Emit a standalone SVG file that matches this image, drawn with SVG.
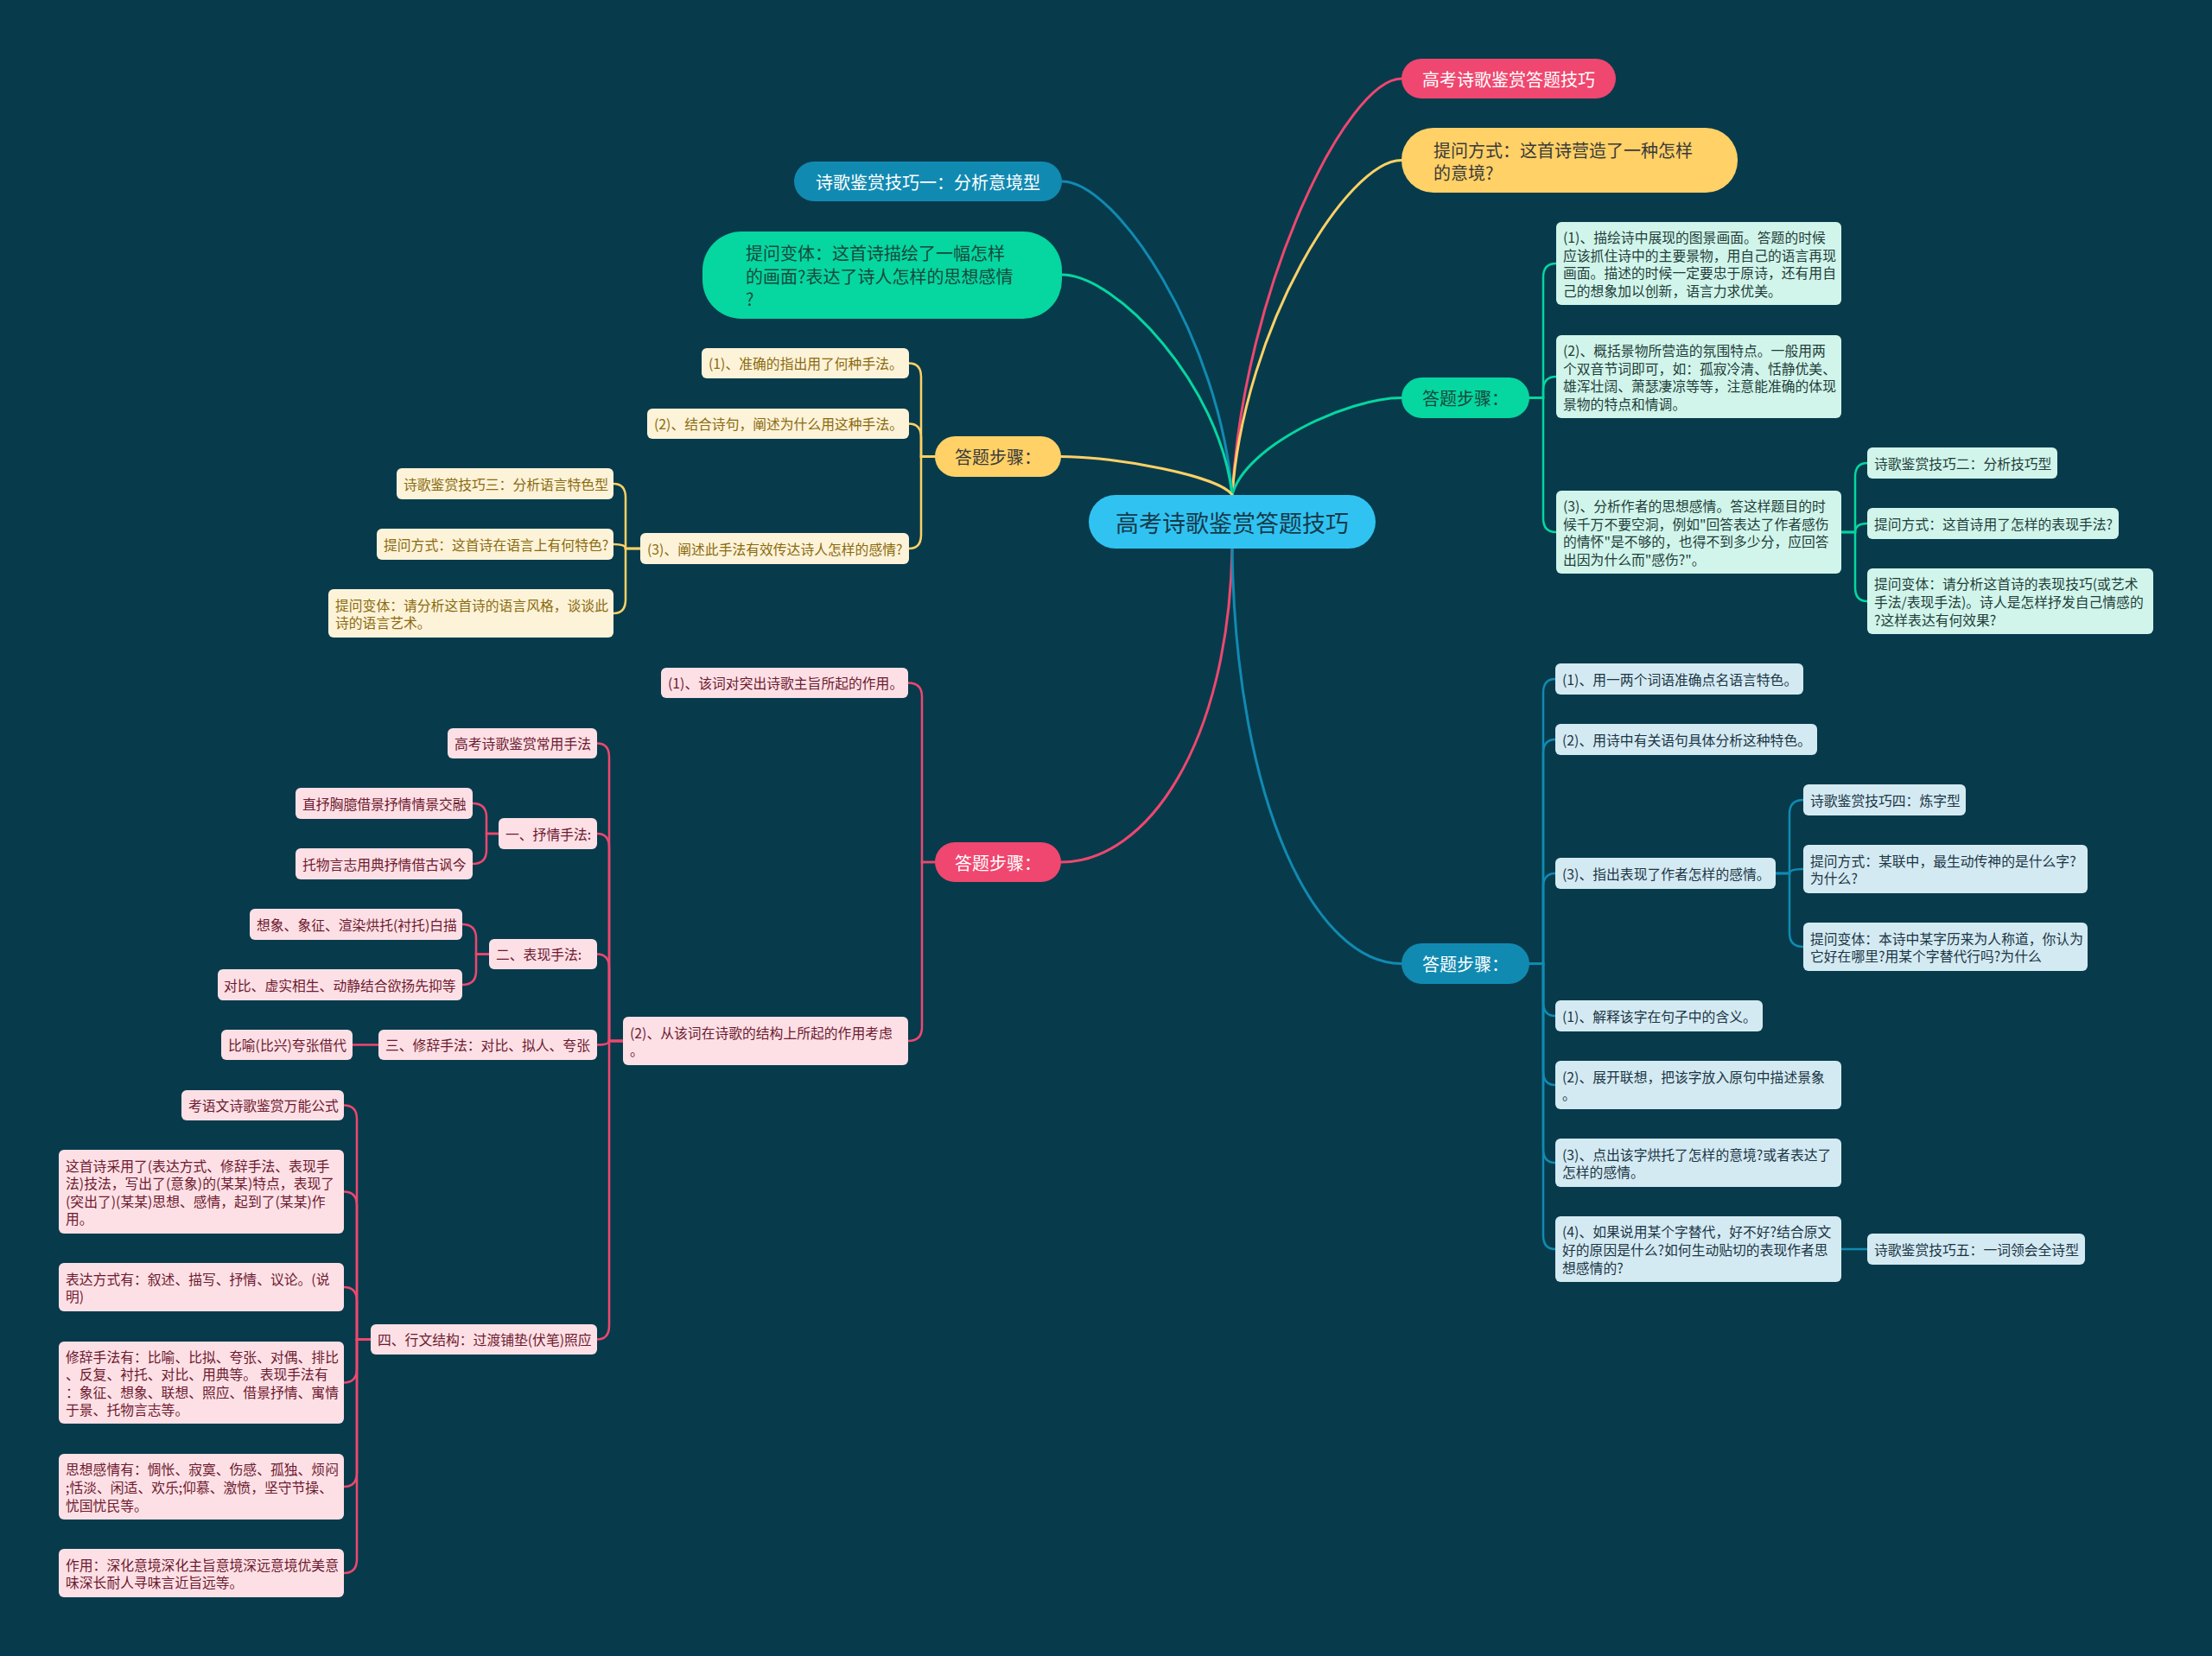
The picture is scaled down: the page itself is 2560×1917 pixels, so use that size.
<svg xmlns="http://www.w3.org/2000/svg" width="2560" height="1917" viewBox="0 0 2560 1917">
<style>
text, tspan { font-family: "Noto Sans CJK SC", "Noto Sans", sans-serif; dominant-baseline: central; }
.root { fill: #30c3f2; }
.rt { font-size: 27px; fill: #173a4a; text-anchor: middle; }
.l1 { font-size: 20px; }
.mid { text-anchor: middle; }
.w { fill: #ffffff; }
.dk { fill: #3a3a3a; }
.dg { fill: #164a3d; }
.lf { font-size: 15.8px; }
.gl { fill: #d1f5ea; } .glt { fill: #1f3d3a; }
.bl { fill: #d4eaf2; } .blt { fill: #1b3545; }
.yl { fill: #fdf3d9; } .ylt { fill: #8a6a0e; }
.pl { fill: #fde0e6; } .plt { fill: #6d1a2e; }
.c { fill: none; stroke-width: 2.5; stroke-linecap: round; }
.cm { fill: none; stroke-width: 3; stroke-linecap: round; }
.sp { stroke: #ef476f; } .sy { stroke: #ffd166; } .sg { stroke: #06d6a0; } .sb { stroke: #118ab2; }
</style>
<rect x="0" y="0" width="2560" height="1917" fill="#073b4c"/>

<g id="connectors">
  <path class="cm sp" d="M1426,573 C1440,332 1559,91 1622,91"/>
  <path class="cm sy" d="M1426,573 C1440,379 1559,185.5 1622,185.5"/>
  <path class="cm sg" d="M1426,573 C1440,517 1559,460.5 1622,460.5"/>
  <path class="cm sb" d="M1426,573 C1412,391.5 1292,210 1229,210"/>
  <path class="cm sg" d="M1426,573 C1412,445.5 1292,318 1229,318"/>
  <path class="cm sy" d="M1426,573 C1412,551 1291,528.5 1228,528.5"/>
  <path class="cm sp" d="M1426,635 C1422,862 1327,998 1228,998"/>
  <path class="cm sb" d="M1426,635 C1430,935 1524,1115.5 1622,1115.5"/>

  <path class="c sg" d="M1770,460.5 H1786 V321 Q1786,305 1801,305"/>
  <path class="c sg" d="M1770,460.5 H1786 V452 Q1786,436 1801,436"/>
  <path class="c sg" d="M1770,460.5 H1786 V600 Q1786,616 1801,616"/>
  <path class="c sg" d="M2131,616 H2147 V552 Q2147,536 2161,536"/>
  <path class="c sg" d="M2131,616 H2147 Q2147,606 2161,606"/>
  <path class="c sg" d="M2131,616 H2147 V680 Q2147,696 2161,696"/>

  <path class="c sb" d="M1770,1115.5 H1786 V802 Q1786,786 1800,786"/>
  <path class="c sb" d="M1770,1115.5 H1786 V872 Q1786,856 1800,856"/>
  <path class="c sb" d="M1770,1115.5 H1786 V1027 Q1786,1011 1800,1011"/>
  <path class="c sb" d="M1770,1115.5 H1786 V1160 Q1786,1176 1800,1176"/>
  <path class="c sb" d="M1770,1115.5 H1786 V1240 Q1786,1256 1800,1256"/>
  <path class="c sb" d="M1770,1115.5 H1786 V1330 Q1786,1346 1800,1346"/>
  <path class="c sb" d="M1770,1115.5 H1786 V1430 Q1786,1446 1800,1446"/>
  <path class="c sb" d="M2055,1011 H2071 V942 Q2071,926 2087,926"/>
  <path class="c sb" d="M2055,1011 H2071 Q2071,1006 2087,1006"/>
  <path class="c sb" d="M2055,1011 H2071 V1080 Q2071,1096 2087,1096"/>
  <path class="c sb" d="M2131,1446 H2161"/>

  <path class="c sy" d="M1082,528.5 H1066 V436.5 Q1066,420.5 1052,420.5"/>
  <path class="c sy" d="M1082,528.5 H1066 V506.5 Q1066,490.5 1052,490.5"/>
  <path class="c sy" d="M1082,528.5 H1066 V619 Q1066,635 1052,635"/>
  <path class="c sy" d="M741,635 H724 V576 Q724,560 710,560"/>
  <path class="c sy" d="M741,635 H724 Q724,630 710,630"/>
  <path class="c sy" d="M741,635 H724 V694 Q724,710 710,710"/>

  <path class="c sp" d="M1082,998 H1067 V806.5 Q1067,790.5 1051,790.5"/>
  <path class="c sp" d="M1082,998 H1067 V1189 Q1067,1205 1051,1205"/>
  <path class="c sp" d="M721,1205 H705 V876.5 Q705,860.5 691,860.5"/>
  <path class="c sp" d="M721,1205 H705 V981 Q705,965 691,965"/>
  <path class="c sp" d="M721,1205 H705 V1120.5 Q705,1104.5 691,1104.5"/>
  <path class="c sp" d="M721,1205 H705 Q705,1209.5 691,1209.5"/>
  <path class="c sp" d="M721,1205 H705 V1534.5 Q705,1550.5 691,1550.5"/>
  <path class="c sp" d="M577,965 H563 V946 Q563,930 547,930"/>
  <path class="c sp" d="M577,965 H563 V984 Q563,1000 547,1000"/>
  <path class="c sp" d="M566,1104.5 H551 V1086 Q551,1070 535,1070"/>
  <path class="c sp" d="M566,1104.5 H551 V1124 Q551,1140 535,1140"/>
  <path class="c sp" d="M438,1209.5 H408"/>
  <path class="c sp" d="M429,1550.5 H413 V1295.5 Q413,1279.5 398,1279.5"/>
  <path class="c sp" d="M429,1550.5 H413 V1395.5 Q413,1379.5 398,1379.5"/>
  <path class="c sp" d="M429,1550.5 H413 V1506 Q413,1490 398,1490"/>
  <path class="c sp" d="M429,1550.5 H413 V1584.5 Q413,1600.5 398,1600.5"/>
  <path class="c sp" d="M429,1550.5 H413 V1705 Q413,1721 398,1721"/>
  <path class="c sp" d="M429,1550.5 H413 V1805 Q413,1821 398,1821"/>
</g>

<g id="root">
  <rect class="root" x="1260" y="573" width="332" height="62" rx="31"/>
  <text class="rt" x="1426" y="604">高考诗歌鉴赏答题技巧</text>
</g>

<g id="n-top-title">
  <rect x="1622" y="68" width="248" height="46" rx="23" fill="#ef476f"/>
  <text class="l1 mid w" x="1746" y="91">高考诗歌鉴赏答题技巧</text>
</g>
<g id="n-top-question">
  <rect x="1622" y="148" width="389" height="75" rx="37" fill="#ffd166"/>
  <text class="l1 dk"><tspan x="1659" y="172.5">提问方式：这首诗营造了一种怎样</tspan><tspan x="1659" y="198.5">的意境?</tspan></text>
</g>
<g id="n-green-steps">
  <rect x="1622" y="437" width="148" height="47" rx="23.5" fill="#06d6a0"/>
  <text class="l1 mid dg" x="1696" y="460.5">答题步骤：</text>
</g>
<g id="n-blue-steps">
  <rect x="1622" y="1092" width="148" height="47" rx="23.5" fill="#118ab2"/>
  <text class="l1 mid w" x="1696" y="1115.5">答题步骤：</text>
</g>
<g id="n-skill1">
  <rect x="919" y="187" width="310" height="46" rx="23" fill="#118ab2"/>
  <text class="l1 mid w" x="1074" y="210">诗歌鉴赏技巧一：分析意境型</text>
</g>
<g id="n-variant1">
  <rect x="813" y="268" width="416" height="101" rx="45" fill="#06d6a0"/>
  <text class="l1 dg"><tspan x="863" y="292">提问变体：这首诗描绘了一幅怎样</tspan><tspan x="863" y="318.5">的画面?表达了诗人怎样的思想感情</tspan><tspan x="863" y="345">?</tspan></text>
</g>
<g id="n-yellow-steps">
  <rect x="1082" y="505" width="146" height="47" rx="23.5" fill="#ffd166"/>
  <text class="l1 mid dk" x="1155" y="528.5">答题步骤：</text>
</g>
<g id="n-pink-steps">
  <rect x="1082" y="975" width="146" height="46" rx="23" fill="#ef476f"/>
  <text class="l1 mid w" x="1155" y="998">答题步骤：</text>
</g>

<g id="g-a">
  <rect class="gl" x="1801" y="257" width="330" height="96" rx="6"/>
  <text class="lf glt"><tspan x="1809" y="274.1">(1)、描绘诗中展现的图景画面。答题的时候</tspan><tspan x="1809" y="294.7">应该抓住诗中的主要景物，用自己的语言再现</tspan><tspan x="1809" y="315.3">画面。描述的时候一定要忠于原诗，还有用自</tspan><tspan x="1809" y="335.9">己的想象加以创新，语言力求优美。</tspan></text>
</g>
<g id="g-b">
  <rect class="gl" x="1801" y="388" width="330" height="96" rx="6"/>
  <text class="lf glt"><tspan x="1809" y="405.1">(2)、概括景物所营造的氛围特点。一般用两</tspan><tspan x="1809" y="425.7">个双音节词即可，如：孤寂冷清、恬静优美、</tspan><tspan x="1809" y="446.3">雄浑壮阔、萧瑟凄凉等等，注意能准确的体现</tspan><tspan x="1809" y="466.9">景物的特点和情调。</tspan></text>
</g>
<g id="g-c">
  <rect class="gl" x="1801" y="568" width="330" height="96" rx="6"/>
  <text class="lf glt"><tspan x="1809" y="585.1">(3)、分析作者的思想感情。答这样题目的时</tspan><tspan x="1809" y="605.7">候千万不要空洞，例如"回答表达了作者感伤</tspan><tspan x="1809" y="626.3">的情怀"是不够的，也得不到多少分，应回答</tspan><tspan x="1809" y="646.9">出因为什么而"感伤?"。</tspan></text>
</g>
<g id="g-c1">
  <rect class="gl" x="2161" y="518" width="220" height="36" rx="6"/>
  <text class="lf glt" x="2169" y="536">诗歌鉴赏技巧二：分析技巧型</text>
</g>
<g id="g-c2">
  <rect class="gl" x="2161" y="588" width="291" height="36" rx="6"/>
  <text class="lf glt" x="2169" y="606">提问方式：这首诗用了怎样的表现手法?</text>
</g>
<g id="g-c3">
  <rect class="gl" x="2161" y="658" width="331" height="76" rx="6"/>
  <text class="lf glt"><tspan x="2169" y="675.4">提问变体：请分析这首诗的表现技巧(或艺术</tspan><tspan x="2169" y="696">手法/表现手法)。诗人是怎样抒发自己情感的</tspan><tspan x="2169" y="716.6">?这样表达有何效果?</tspan></text>
</g>

<g id="b-1">
  <rect class="bl" x="1800" y="768" width="287" height="36" rx="6"/>
  <text class="lf blt" x="1808" y="786">(1)、用一两个词语准确点名语言特色。</text>
</g>
<g id="b-2">
  <rect class="bl" x="1800" y="838" width="303" height="36" rx="6"/>
  <text class="lf blt" x="1808" y="856">(2)、用诗中有关语句具体分析这种特色。</text>
</g>
<g id="b-3">
  <rect class="bl" x="1800" y="993" width="255" height="36" rx="6"/>
  <text class="lf blt" x="1808" y="1011">(3)、指出表现了作者怎样的感情。</text>
</g>
<g id="b-3a">
  <rect class="bl" x="2087" y="908" width="188" height="36" rx="6"/>
  <text class="lf blt" x="2095" y="926">诗歌鉴赏技巧四：炼字型</text>
</g>
<g id="b-3b">
  <rect class="bl" x="2087" y="978" width="329" height="56" rx="6"/>
  <text class="lf blt"><tspan x="2095" y="995.7">提问方式：某联中，最生动传神的是什么字?</tspan><tspan x="2095" y="1016.3">为什么?</tspan></text>
</g>
<g id="b-3c">
  <rect class="bl" x="2087" y="1068" width="329" height="56" rx="6"/>
  <text class="lf blt"><tspan x="2095" y="1085.7">提问变体：本诗中某字历来为人称道，你认为</tspan><tspan x="2095" y="1106.3">它好在哪里?用某个字替代行吗?为什么</tspan></text>
</g>
<g id="b-4">
  <rect class="bl" x="1800" y="1158" width="240" height="36" rx="6"/>
  <text class="lf blt" x="1808" y="1176">(1)、解释该字在句子中的含义。</text>
</g>
<g id="b-5">
  <rect class="bl" x="1800" y="1228" width="331" height="56" rx="6"/>
  <text class="lf blt"><tspan x="1808" y="1245.7">(2)、展开联想，把该字放入原句中描述景象</tspan><tspan x="1808" y="1266.3">。</tspan></text>
</g>
<g id="b-6">
  <rect class="bl" x="1800" y="1318" width="331" height="56" rx="6"/>
  <text class="lf blt"><tspan x="1808" y="1335.7">(3)、点出该字烘托了怎样的意境?或者表达了</tspan><tspan x="1808" y="1356.3">怎样的感情。</tspan></text>
</g>
<g id="b-7">
  <rect class="bl" x="1800" y="1408" width="331" height="76" rx="6"/>
  <text class="lf blt"><tspan x="1808" y="1425.4">(4)、如果说用某个字替代，好不好?结合原文</tspan><tspan x="1808" y="1446">好的原因是什么?如何生动贴切的表现作者思</tspan><tspan x="1808" y="1466.6">想感情的?</tspan></text>
</g>
<g id="b-7a">
  <rect class="bl" x="2161" y="1428" width="252" height="36" rx="6"/>
  <text class="lf blt" x="2169" y="1446">诗歌鉴赏技巧五：一词领会全诗型</text>
</g>

<g id="y-1">
  <rect class="yl" x="812" y="403" width="240" height="35" rx="6"/>
  <text class="lf ylt" x="820" y="420.5">(1)、准确的指出用了何种手法。</text>
</g>
<g id="y-2">
  <rect class="yl" x="749" y="473" width="303" height="35" rx="6"/>
  <text class="lf ylt" x="757" y="490.5">(2)、结合诗句，阐述为什么用这种手法。</text>
</g>
<g id="y-3">
  <rect class="yl" x="741" y="617" width="311" height="36" rx="6"/>
  <text class="lf ylt" x="749" y="635">(3)、阐述此手法有效传达诗人怎样的感情?</text>
</g>
<g id="y-3a">
  <rect class="yl" x="459" y="542" width="251" height="36" rx="6"/>
  <text class="lf ylt" x="467" y="560">诗歌鉴赏技巧三：分析语言特色型</text>
</g>
<g id="y-3b">
  <rect class="yl" x="436" y="612" width="274" height="36" rx="6"/>
  <text class="lf ylt" x="444" y="630">提问方式：这首诗在语言上有何特色?</text>
</g>
<g id="y-3c">
  <rect class="yl" x="380" y="682" width="330" height="56" rx="6"/>
  <text class="lf ylt"><tspan x="388" y="699.7">提问变体：请分析这首诗的语言风格，谈谈此</tspan><tspan x="388" y="720.3">诗的语言艺术。</tspan></text>
</g>

<g id="p-1">
  <rect class="pl" x="765" y="773" width="286" height="35" rx="6"/>
  <text class="lf plt" x="773" y="790.5">(1)、该词对突出诗歌主旨所起的作用。</text>
</g>
<g id="p-2">
  <rect class="pl" x="721" y="1177" width="330" height="56" rx="6"/>
  <text class="lf plt"><tspan x="729" y="1194.7">(2)、从该词在诗歌的结构上所起的作用考虑</tspan><tspan x="729" y="1215.3">。</tspan></text>
</g>
<g id="p-2a">
  <rect class="pl" x="518" y="843" width="173" height="35" rx="6"/>
  <text class="lf plt" x="526" y="860.5">高考诗歌鉴赏常用手法</text>
</g>
<g id="p-2b">
  <rect class="pl" x="577" y="947" width="114" height="36" rx="6"/>
  <text class="lf plt" x="585" y="965">一、抒情手法:</text>
</g>
<g id="p-2b1">
  <rect class="pl" x="342" y="912" width="205" height="36" rx="6"/>
  <text class="lf plt" x="350" y="930">直抒胸臆借景抒情情景交融</text>
</g>
<g id="p-2b2">
  <rect class="pl" x="342" y="982" width="205" height="36" rx="6"/>
  <text class="lf plt" x="350" y="1000">托物言志用典抒情借古讽今</text>
</g>
<g id="p-2c">
  <rect class="pl" x="566" y="1087" width="125" height="35" rx="6"/>
  <text class="lf plt" x="574" y="1104.5">二、表现手法:</text>
</g>
<g id="p-2c1">
  <rect class="pl" x="289" y="1052" width="246" height="36" rx="6"/>
  <text class="lf plt" x="297" y="1070">想象、象征、渲染烘托(衬托)白描</text>
</g>
<g id="p-2c2">
  <rect class="pl" x="252" y="1122" width="283" height="36" rx="6"/>
  <text class="lf plt" x="259" y="1140">对比、虚实相生、动静结合欲扬先抑等</text>
</g>
<g id="p-2d">
  <rect class="pl" x="438" y="1192" width="253" height="35" rx="6"/>
  <text class="lf plt" x="446" y="1209.5">三、修辞手法：对比、拟人、夸张</text>
</g>
<g id="p-2d1">
  <rect class="pl" x="256" y="1192" width="152" height="35" rx="6"/>
  <text class="lf plt" x="264" y="1209.5">比喻(比兴)夸张借代</text>
</g>
<g id="p-2e">
  <rect class="pl" x="429" y="1533" width="262" height="35" rx="6"/>
  <text class="lf plt" x="437" y="1550.5">四、行文结构：过渡铺垫(伏笔)照应</text>
</g>
<g id="p-e1">
  <rect class="pl" x="210" y="1262" width="188" height="35" rx="6"/>
  <text class="lf plt" x="218" y="1279.5">考语文诗歌鉴赏万能公式</text>
</g>
<g id="p-e2">
  <rect class="pl" x="68" y="1331" width="330" height="97" rx="6"/>
  <text class="lf plt"><tspan x="76" y="1348.6">这首诗采用了(表达方式、修辞手法、表现手</tspan><tspan x="76" y="1369.2">法)技法，写出了(意象)的(某某)特点，表现了</tspan><tspan x="76" y="1389.8">(突出了)(某某)思想、感情，起到了(某某)作</tspan><tspan x="76" y="1410.4">用。</tspan></text>
</g>
<g id="p-e3">
  <rect class="pl" x="68" y="1462" width="330" height="56" rx="6"/>
  <text class="lf plt"><tspan x="76" y="1479.7">表达方式有：叙述、描写、抒情、议论。(说</tspan><tspan x="76" y="1500.3">明)</tspan></text>
</g>
<g id="p-e4">
  <rect class="pl" x="68" y="1553" width="330" height="95" rx="6"/>
  <text class="lf plt"><tspan x="76" y="1569.6">修辞手法有：比喻、比拟、夸张、对偶、排比</tspan><tspan x="76" y="1590.2">、反复、衬托、对比、用典等。 表现手法有</tspan><tspan x="76" y="1610.8">：象征、想象、联想、照应、借景抒情、寓情</tspan><tspan x="76" y="1631.4">于景、托物言志等。</tspan></text>
</g>
<g id="p-e5">
  <rect class="pl" x="68" y="1683" width="330" height="76" rx="6"/>
  <text class="lf plt"><tspan x="76" y="1700.4">思想感情有：惆怅、寂寞、伤感、孤独、烦闷</tspan><tspan x="76" y="1721">;恬淡、闲适、欢乐;仰慕、激愤，坚守节操、</tspan><tspan x="76" y="1741.6">忧国忧民等。</tspan></text>
</g>
<g id="p-e6">
  <rect class="pl" x="68" y="1793" width="330" height="56" rx="6"/>
  <text class="lf plt"><tspan x="76" y="1810.7">作用：深化意境深化主旨意境深远意境优美意</tspan><tspan x="76" y="1831.3">味深长耐人寻味言近旨远等。</tspan></text>
</g>
</svg>
